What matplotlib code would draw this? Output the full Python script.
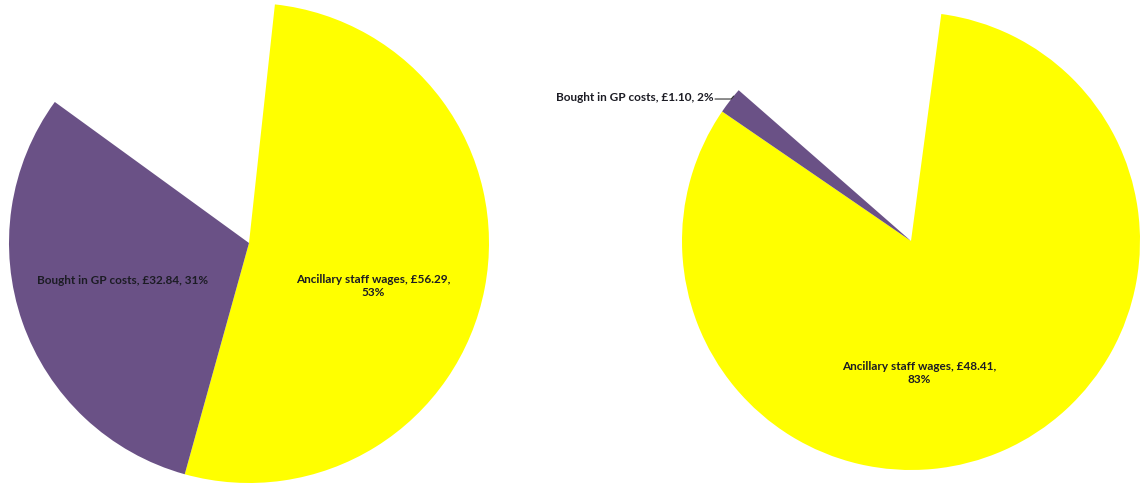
import matplotlib
matplotlib.use("Agg")
import matplotlib.pyplot as plt

# Data
categories = ["Ancillary staff wages", "Bought in GP costs", "Other (not shown)"]
left_values = [56.29, 32.84, 17.9]
right_values = [48.41, 1.10, 9.2]
left_pct = ["53%", "31%"]
right_pct = ["83%", "2%"]

colors = ["#ffff00", "#6a5186", "none"]
text_color = "#1c1c24"
font = ["Lato", "DejaVu Sans"]
fs = 8.5

W, H = 1141, 484
fig = plt.figure(figsize=(W / 100, H / 100), dpi=100)
fig.patch.set_facecolor("white")


def make_ax(cx, cy, r):
    # cx, cy, r in pixels (y from top)
    ax = fig.add_axes([(cx - r) / W, (H - cy - r) / H, 2 * r / W, 2 * r / H])
    return ax


# Left pie
axL = make_ax(249, 243, 240)
axL.pie(left_values, colors=colors, startangle=90 - 6.2, counterclock=False,
        radius=1.0, wedgeprops=dict(linewidth=0))
axL.set_xlim(-1, 1)
axL.set_ylim(-1, 1)
axL.set_aspect("equal")
axL.axis("off")
axL.text(-0.525, -0.158, f"Bought in GP costs, £{left_values[1]:.2f}, {left_pct[1]}",
         ha="center", va="center", fontsize=fs, fontweight="bold", color=text_color,
         family=font)
axL.text(0.517, -0.179, f"Ancillary staff wages, £{left_values[0]:.2f},\n{left_pct[0]}",
         ha="center", va="center", fontsize=fs, fontweight="bold", color=text_color,
         family=font, linespacing=1.3)

# Right pie
axR = make_ax(911, 241, 229)
axR.pie(right_values, colors=colors, startangle=90 - 7.6, counterclock=False,
        radius=1.0, wedgeprops=dict(linewidth=0))
axR.set_xlim(-1, 1)
axR.set_ylim(-1, 1)
axR.set_aspect("equal")
axR.axis("off")
axR.text(0.035, -0.576, f"Ancillary staff wages, £{right_values[0]:.2f},\n{right_pct[0]}",
         ha="center", va="center", fontsize=fs, fontweight="bold", color=text_color,
         family=font, linespacing=1.3)
axR.text(-0.86, 0.628, f"Bought in GP costs, £{right_values[1]:.2f}, {right_pct[1]}",
         ha="right", va="center", fontsize=fs, fontweight="bold", color=text_color,
         family=font, clip_on=False)
axR.plot([-0.855, -0.785, -0.775], [0.620, 0.620, 0.632], color="#333333",
         linewidth=0.8, clip_on=False)

fig.savefig("out.png", dpi=100, facecolor="white")
